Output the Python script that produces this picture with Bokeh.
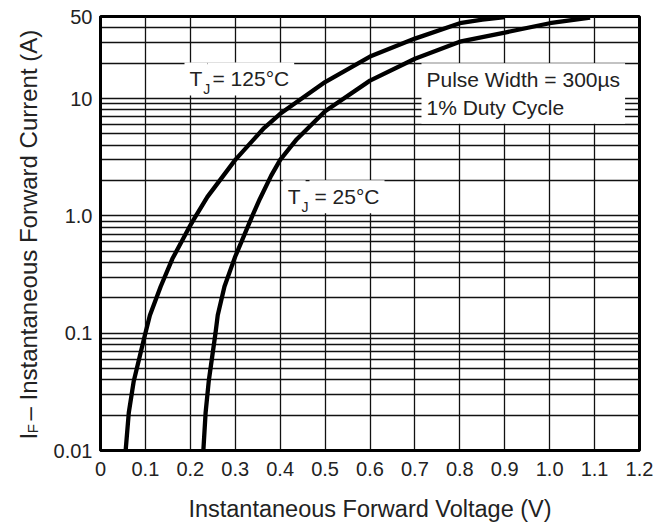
import math
from bokeh.plotting import figure
from bokeh.layouts import row
from bokeh.models import FixedTicker, Label, Range1d
from bokeh.embed import file_html
from bokeh.resources import INLINE

# ---- data ----
v_125 = [0.056, 0.063, 0.074, 0.097, 0.11, 0.134, 0.16, 0.2, 0.209, 0.238, 0.3, 0.364, 0.4, 0.5, 0.6, 0.7, 0.8, 0.85, 0.9]
i_125 = [0.01, 0.021, 0.039, 0.09, 0.142, 0.25, 0.43, 0.83, 0.95, 1.45, 3.0, 5.6, 7.4, 13.8, 22.8, 32.4, 43.8, 47.0, 49.5]

v_25 = [0.229, 0.234, 0.241, 0.256, 0.261, 0.276, 0.293, 0.3, 0.338, 0.355, 0.38, 0.4, 0.437, 0.5, 0.6, 0.7, 0.8, 0.9, 1.0, 1.09]
i_25 = [0.01, 0.021, 0.039, 0.1, 0.142, 0.25, 0.38, 0.45, 1.0, 1.4, 2.2, 3.0, 4.5, 7.8, 14.2, 21.8, 30.5, 36.5, 43.8, 49.0]

x_ticks = [0, 0.1, 0.2, 0.3, 0.4, 0.5, 0.6, 0.7, 0.8, 0.9, 1.0, 1.1, 1.2]
x_tick_labels = ["0", "0.1", "0.2", "0.3", "0.4", "0.5", "0.6", "0.7", "0.8", "0.9", "1.0", "1.1", "1.2"]
y_ticks = [0.01, 0.1, 1, 10, 50]
y_tick_labels = ["0.01", "0.1", "1.0", "10", "50"]
y_grid = [0.02, 0.03, 0.04, 0.05, 0.06, 0.07, 0.08, 0.09,
          0.1, 0.2, 0.3, 0.4, 0.5, 0.6, 0.7, 0.8, 0.9,
          1, 2, 3, 4, 5, 6, 7, 8, 9,
          10, 20, 30, 40]

FONT = "Liberation Sans"
TXT = "#222222"
H = 524
WL = 50

yr = Range1d(0.01, 50)

# ---- left strip holding the rotated y-axis title (with subscript) ----
lt = figure(width=WL, height=H, output_backend="svg", toolbar_location=None,
            y_axis_type="log", x_range=Range1d(0, WL), y_range=yr,
            x_axis_location=None, y_axis_location=None,
            min_border_left=0, min_border_right=0, min_border_top=16,
            min_border_bottom=H - 453)
lt.outline_line_color = None
lt.xgrid.visible = False
lt.ygrid.visible = False
lt.background_fill_color = "white"
lt.border_fill_color = "white"
ang = math.pi / 2
lt.add_layout(Label(x=28, y=0.01239, text="I", angle=ang, text_font=FONT,
                    text_font_size="24px", text_color=TXT, text_align="left",
                    text_baseline="alphabetic"))
lt.add_layout(Label(x=31.5, y=0.01406, text="F", angle=ang, text_font=FONT,
                    text_font_size="15px", text_color=TXT, text_align="left",
                    text_baseline="alphabetic"))
lt.add_layout(Label(x=28, y=0.0180, text="\u2013 Instantaneous Forward Current (A)",
                    angle=ang, text_font=FONT, text_font_size="24px", text_color=TXT,
                    text_align="left", text_baseline="alphabetic"))

# ---- main plot ----
p = figure(width=655 - WL, height=H, output_backend="svg", toolbar_location=None,
           y_axis_type="log", x_range=Range1d(0, 1.2), y_range=yr,
           min_border_left=100 - WL, min_border_right=16, min_border_top=16,
           min_border_bottom=H - 453)
p.background_fill_color = "white"
p.border_fill_color = "white"
p.outline_line_color = "black"
p.outline_line_width = 3

p.xgrid.ticker = FixedTicker(ticks=x_ticks)
p.ygrid.ticker = FixedTicker(ticks=y_grid)
for g in (p.xgrid, p.ygrid):
    g.grid_line_color = "#111111"
    g.grid_line_width = 1.3
    g.grid_line_alpha = 1.0

p.xaxis.ticker = FixedTicker(ticks=x_ticks)
p.xaxis.major_label_overrides = {t: l for t, l in zip(x_ticks, x_tick_labels)}
p.yaxis.ticker = FixedTicker(ticks=y_ticks)
p.yaxis.major_label_overrides = {t: l for t, l in zip(y_ticks, y_tick_labels)}
for ax in (p.xaxis, p.yaxis):
    ax.axis_line_color = "black"
    ax.axis_line_width = 3
    ax.major_tick_line_color = None
    ax.minor_tick_line_color = None
    ax.major_tick_out = 0
    ax.major_tick_in = 0
    ax.major_label_text_font = FONT
    ax.major_label_text_font_size = "20px"
    ax.major_label_text_color = TXT
p.xaxis.major_label_standoff = 11
p.yaxis.major_label_standoff = 8
p.xaxis.axis_label = "Instantaneous Forward Voltage (V)"
p.xaxis.axis_label_text_font = FONT
p.xaxis.axis_label_text_font_size = "23.5px"
p.xaxis.axis_label_text_font_style = "normal"
p.xaxis.axis_label_text_color = TXT
p.xaxis.axis_label_standoff = 17

# label boxes (drawn beneath the curves, above the grid)
def tj_label(xT, yT, xJ, yJ, xM, text):
    p.add_layout(Label(x=xT, y=yT, text="T", text_font=FONT, text_font_size="21px",
                       text_color=TXT, text_baseline="alphabetic",
                       background_fill_color="white", padding=5, level="underlay"))
    p.add_layout(Label(x=xM, y=yT, text=text, text_font=FONT, text_font_size="21px",
                       text_color=TXT, text_baseline="alphabetic",
                       background_fill_color="white", padding=5, level="underlay"))
    p.add_layout(Label(x=xJ, y=yJ, text="J", text_font=FONT, text_font_size="14px",
                       text_color=TXT, text_baseline="alphabetic", level="underlay"))

tj_label(0.187, 14.7, 0.2289, 11.97, 0.2382, "= 125\u00b0C")
tj_label(0.4058, 1.456, 0.4477, 1.197, 0.4653, "= 25\u00b0C")

p.add_layout(Label(x=0.7146, y=20.0, text="Pulse Width = 300\u00b5s\n1% Duty Cycle",
                   text_font=FONT, text_font_size="21px", text_color=TXT,
                   text_baseline="top", text_align="left",
                   background_fill_color="white", padding=5, level="underlay"))

# curves
p.line(v_125, i_125, line_color="black", line_width=4.3)
p.line(v_25, i_25, line_color="black", line_width=4.3)

layout = row(lt, p)
open("out.html", "w").write(file_html(layout, INLINE))
